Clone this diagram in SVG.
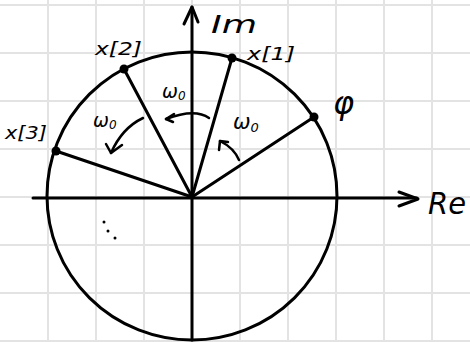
<svg xmlns="http://www.w3.org/2000/svg" width="470" height="342" viewBox="0 0 470 342">
<style>
.grid{stroke:#e3e3e3;stroke-width:2;fill:none}
.ink{stroke:#000;stroke-width:3;fill:none;stroke-linecap:round;stroke-linejoin:round}
.thin{stroke:#000;stroke-width:2.5;fill:none;stroke-linecap:round;stroke-linejoin:round}
.pt{fill:#000}
.lbl{font-family:"DejaVu Sans","Liberation Sans",sans-serif;font-style:italic;fill:#000}
</style>
<rect width="470" height="342" fill="#fff"/>
<g id="grid" class="grid">
<path d="M48 0V342M96 0V342M144 0V342M192 0V342M240 0V342M288 0V342M336 0V342M384 0V342M432 0V342"/>
<path d="M0 5H470M0 53H470M0 101H470M0 149H470M0 197H470M0 245H470M0 293H470M0 341H470"/>
</g>
<g id="circle">
<ellipse class="ink" cx="192" cy="196" rx="145" ry="144"/>
</g>
<g id="connectors">
<path class="ink" d="M33 198H417"/>
<path class="ink" d="M399 192L418 199L399 206"/>
<path class="ink" d="M192 340V7"/>
<path class="ink" d="M184 24L192 7L198 22"/>
<path class="ink" d="M192 197L314 117"/>
<path class="ink" d="M192 197L232 58"/>
<path class="ink" d="M192 197L124 69"/>
<path class="ink" d="M192 197L56 151"/>
<path class="thin" d="M209 118Q195 108 166 119"/>
<path class="thin" d="M174 114L166 119L173 122"/>
<path class="thin" d="M239 160Q234 148 220 141"/>
<path class="thin" d="M219 150L220 141L228 142"/>
<path class="thin" d="M143 118Q122 128 111 153"/>
<path class="thin" d="M106 144L111 153L122 145"/>
</g>
<g id="points">
<circle class="pt" cx="314" cy="117" r="4.5"/>
<circle class="pt" cx="232" cy="58" r="4.5"/>
<circle class="pt" cx="124" cy="69" r="4.5"/>
<circle class="pt" cx="56" cy="151" r="4.5"/>
<circle class="pt" cx="104" cy="222" r="1.5"/>
<circle class="pt" cx="108" cy="231" r="1.5"/>
<circle class="pt" cx="115" cy="238" r="1.5"/>
</g>
<g id="labels">
<text class="lbl" x="211" y="33" font-size="24" textLength="46" lengthAdjust="spacingAndGlyphs">Im</text>
<text class="lbl" x="428" y="214" font-size="30" textLength="38" lengthAdjust="spacingAndGlyphs">Re</text>
<text class="lbl" x="333" y="114" font-size="32">φ</text>
<text class="lbl" x="247" y="60" font-size="18" textLength="48" lengthAdjust="spacingAndGlyphs">x[1]</text>
<text class="lbl" x="95" y="55" font-size="18" textLength="47" lengthAdjust="spacingAndGlyphs">x[2]</text>
<text class="lbl" x="5" y="139" font-size="18" textLength="42" lengthAdjust="spacingAndGlyphs">x[3]</text>
<text class="lbl" x="162" y="98" font-size="19">ω<tspan font-size="12" dy="2">0</tspan></text>
<text class="lbl" x="93" y="127" font-size="19">ω<tspan font-size="12" dy="2">0</tspan></text>
<text class="lbl" x="233" y="129" font-size="21">ω<tspan font-size="13" dy="3">0</tspan></text>
</g>
</svg>
